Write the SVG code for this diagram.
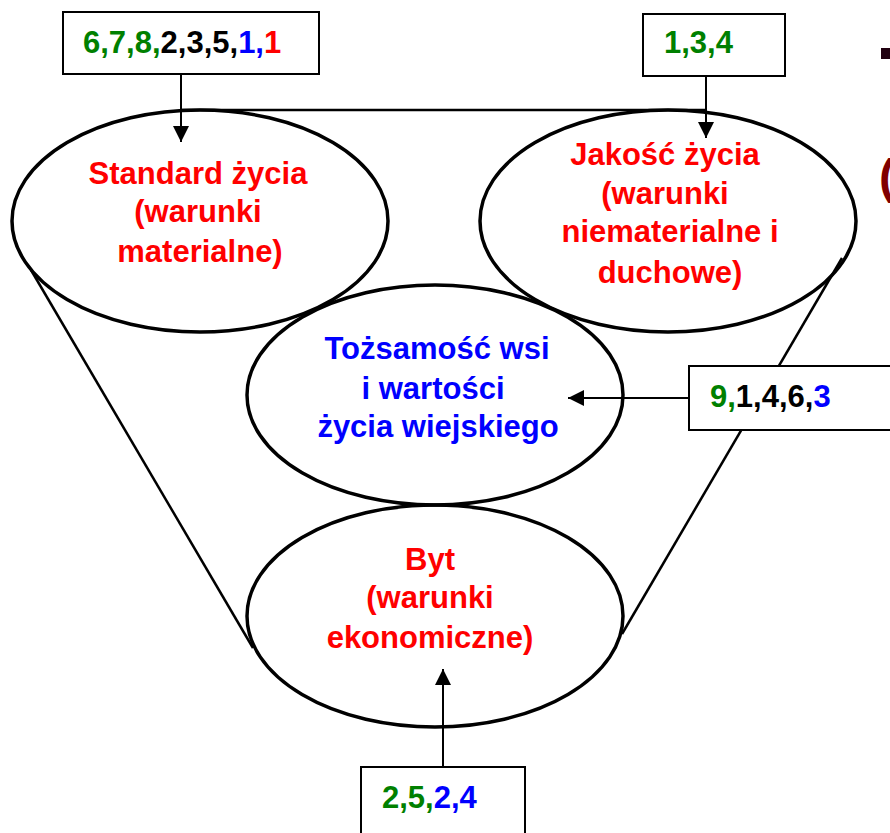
<svg xmlns="http://www.w3.org/2000/svg" width="890" height="833" viewBox="0 0 890 833">
<defs>
<marker id="ah" viewBox="0 0 16 16" refX="16" refY="8" markerWidth="16" markerHeight="16" markerUnits="userSpaceOnUse" orient="auto">
<path d="M0,0 L16,8 L0,16 z" fill="#000"/>
</marker>
<style>
.ell{fill:none;stroke:#000;stroke-width:3.5}
.side{fill:none;stroke:#000;stroke-width:2.5}
.box{fill:#fff;stroke:#000;stroke-width:2}
.arr{fill:none;stroke:#000;stroke-width:2;marker-end:url(#ah)}
text{font-family:"Liberation Sans",Arial,sans-serif;font-weight:bold;font-size:31px}
.c{text-anchor:middle}
.r{fill:#ff0000}
.b{fill:#0000ff}
.g{fill:#008000}
.k{fill:#000}
</style>
</defs>
<rect width="890" height="833" fill="#fff"/>
<g id="funnel">
<path class="side" d="M180,110 L707,110"/>
<path class="side" d="M31,270 L253,648"/>
<path class="side" d="M842,258 L622,634"/>
</g>
<g id="standard">
<ellipse class="ell" cx="200" cy="221" rx="188" ry="111"/>
<text class="c r" x="198" y="184">Standard życia</text>
<text class="c r" x="198" y="222">(warunki</text>
<text class="c r" x="200" y="262">materialne)</text>
</g>
<g id="jakosc">
<ellipse class="ell" cx="668" cy="221" rx="188" ry="111"/>
<text class="c r" x="665" y="165">Jakość życia</text>
<text class="c r" x="665" y="204">(warunki</text>
<text class="c r" x="670" y="242">niematerialne i</text>
<text class="c r" x="670" y="283">duchowe)</text>
</g>
<g id="tozsamosc">
<ellipse class="ell" cx="435" cy="395" rx="188" ry="110"/>
<text class="c b" x="437" y="359">Tożsamość wsi</text>
<text class="c b" x="433" y="399">i wartości</text>
<text class="c b" x="438" y="437">życia wiejskiego</text>
</g>
<g id="byt">
<ellipse class="ell" cx="435" cy="616" rx="188" ry="111"/>
<text class="c r" x="430" y="570">Byt</text>
<text class="c r" x="430" y="608">(warunki</text>
<text class="c r" x="430" y="648">ekonomiczne)</text>
</g>
<g id="connectors">
<path class="arr" d="M181,74 L181,142"/>
<path class="arr" d="M706,76 L706,138"/>
<path class="arr" d="M689,398 L568,398"/>
<path class="arr" d="M443,767 L443,669"/>
</g>
<g id="box1">
<rect class="box" x="63" y="12" width="256" height="62"/>
<text x="83" y="53"><tspan class="g">6,7,8,</tspan><tspan class="k">2,3,5,</tspan><tspan class="b">1,</tspan><tspan class="r">1</tspan></text>
</g>
<g id="box2">
<rect class="box" x="643" y="14" width="142" height="62"/>
<text class="g" x="664" y="53">1,3,4</text>
</g>
<g id="box3">
<rect class="box" x="689" y="366" width="210" height="64"/>
<text x="710" y="407"><tspan class="g">9,</tspan><tspan class="k">1,4,6,</tspan><tspan class="b">3</tspan></text>
</g>
<g id="box4">
<rect class="box" x="361" y="767" width="164" height="80"/>
<text x="382" y="808"><tspan class="g">2,5,</tspan><tspan class="b">2,4</tspan></text>
</g>
<g id="edge">
<rect x="881" y="48" width="9" height="11" fill="#200010"/>
<text x="879" y="193" style="font-size:48px;fill:#800000">(</text>
</g>
</svg>
